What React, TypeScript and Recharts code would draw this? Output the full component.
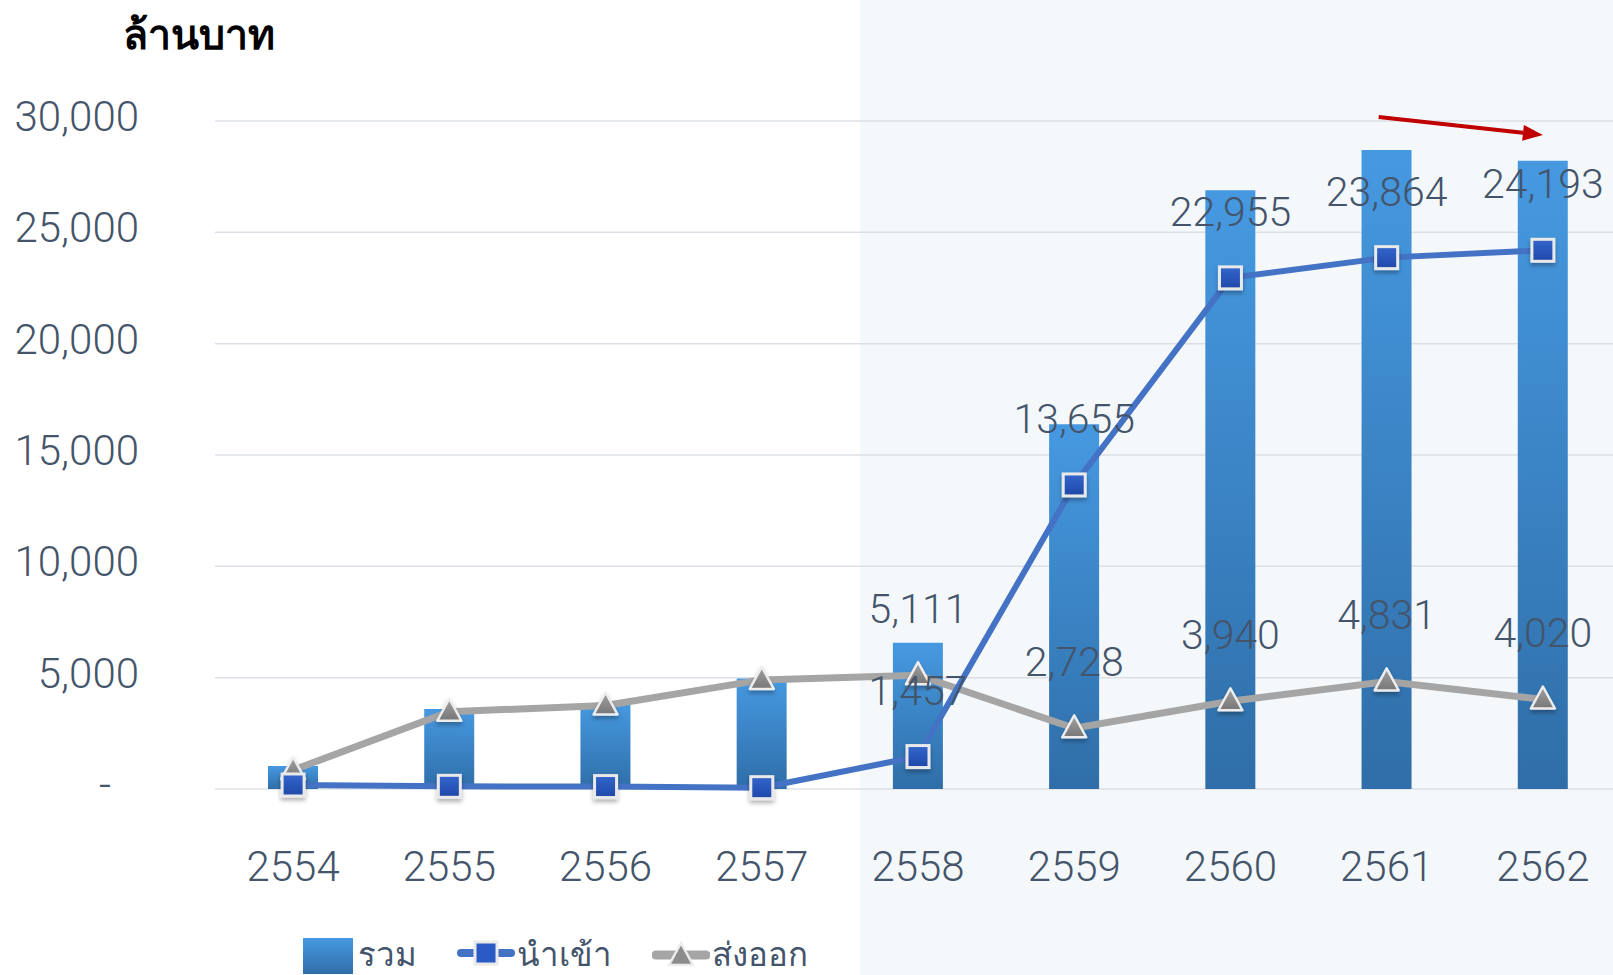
import React from "react";
import {
  Bar,
  CartesianGrid,
  ComposedChart,
  LabelList,
  Legend,
  Line,
  ReferenceLine,
  XAxis,
  YAxis,
} from "recharts";

const years = ["2554", "2555", "2556", "2557", "2558", "2559", "2560", "2561", "2562"];
const totalValues = [1030, 3590, 3860, 4960, 6568, 16383, 26895, 28695, 28213];
const importValues = [180, 120, 110, 60, 1457, 13655, 22955, 23864, 24193];
const exportValues = [850, 3470, 3750, 4900, 5111, 2728, 3940, 4831, 4020];
const yTicks = [0, 5000, 10000, 15000, 20000, 25000, 30000];
const seriesNames = ["รวม", "นำเข้า", "ส่งออก"];
// labels are only shown from 2558 on
const firstLabelled = 4;

const data = years.map((year, i) => ({
  year,
  total: totalValues[i],
  imp: importValues[i],
  exp: exportValues[i],
}));

const TEXT = "#44546A";
const NUM_FONT = "Roboto, 'Noto Sans', sans-serif";

const fmt = (v: number) => v.toLocaleString("en-US");

const YTick = (props: any) => {
  const { x, y, payload } = props;
  const zero = payload.value === 0;
  return (
    <text
      x={x - 68 - (zero ? 28 : 0)}
      y={y + 10}
      textAnchor="end"
      fill={TEXT}
      fontFamily={NUM_FONT}
      fontWeight={300}
      fontSize={42}
    >
      {zero ? "-" : fmt(payload.value)}
    </text>
  );
};

const XTick = (props: any) => {
  const { x, y, payload } = props;
  return (
    <text
      x={x}
      y={y + 84}
      textAnchor="middle"
      fill={TEXT}
      fontFamily={NUM_FONT}
      fontWeight={300}
      fontSize={42}
    >
      {payload.value}
    </text>
  );
};

const valueLabel = (props: any) => {
  const { x, y, value, index } = props;
  if (index < firstLabelled) return null;
  return (
    <text
      x={x}
      y={y - 52}
      textAnchor="middle"
      fill={TEXT}
      fontFamily={NUM_FONT}
      fontWeight={300}
      fontSize={41}
    >
      {fmt(value)}
    </text>
  );
};

const SquareDot = (props: any) => {
  const { cx, cy } = props;
  if (cx == null || cy == null) return null;
  return (
    <rect
      x={cx - 11}
      y={cy - 11}
      width={22}
      height={22}
      fill="url(#sqGrad)"
      stroke="#E9E9E9"
      strokeWidth={3}
      filter="url(#shadow)"
    />
  );
};

const TriDot = (props: any) => {
  const { cx, cy } = props;
  if (cx == null || cy == null) return null;
  return (
    <polygon
      points={`${cx},${cy - 13} ${cx + 12},${cy + 9} ${cx - 12},${cy + 9}`}
      fill="url(#triGrad)"
      stroke="#EDEDED"
      strokeWidth={2.5}
      strokeLinejoin="round"
      filter="url(#shadow)"
    />
  );
};

const Arrow = (props: any) => {
  const { x1, y1, x2, y2 } = props;
  const ang = Math.atan2(y2 - y1, x2 - x1);
  const len = 20;
  const half = 8;
  const bx = x2 - len * Math.cos(ang);
  const by = y2 - len * Math.sin(ang);
  const px = -Math.sin(ang) * half;
  const py = Math.cos(ang) * half;
  return (
    <g>
      <line x1={x1 - 8} y1={y1 - 1} x2={bx} y2={by} stroke="#C00000" strokeWidth={4} />
      <polygon
        points={`${x2},${y2} ${bx + px},${by + py} ${bx - px},${by - py}`}
        fill="#C00000"
      />
    </g>
  );
};

const LegendBox = () => (
  <div
    style={{
      display: "flex",
      alignItems: "center",
      fontFamily: "'Noto Sans', sans-serif",
      fontWeight: 300,
      fontSize: 33,
      lineHeight: 1,
      color: TEXT,
      whiteSpace: "nowrap",
    }}
  >
    <svg width={52} height={42}>
      <rect x={1} y={6} width={50} height={36} fill="url(#legGrad)" />
      <defs>
        <linearGradient id="legGrad" x1="0" y1="0" x2="0" y2="1">
          <stop offset="0%" stopColor="#4699E1" />
          <stop offset="100%" stopColor="#2F6EA8" />
        </linearGradient>
      </defs>
    </svg>
    <span style={{ marginLeft: 4, marginRight: 40 }}>{seriesNames[0]}</span>
    <svg width={58} height={30}>
      <line x1={4} y1={15} x2={54} y2={15} stroke="#4472C4" strokeWidth={8} strokeLinecap="round" />
      <rect x={18} y={4} width={22} height={22} fill="#2A5BC4" stroke="#E9E9E9" strokeWidth={3} />
    </svg>
    <span style={{ marginLeft: 2, marginRight: 40 }}>{seriesNames[1]}</span>
    <svg width={58} height={30}>
      <line x1={4} y1={17} x2={54} y2={17} stroke="#A5A5A5" strokeWidth={9} strokeLinecap="round" />
      <polygon points="29,5 41,27 17,27" fill="#8C8C8C" stroke="#EDEDED" strokeWidth={2.5} />
    </svg>
    <span style={{ marginLeft: 2 }}>{seriesNames[2]}</span>
  </div>
);

export default function App() {
  return (
    <div
      style={{
        position: "absolute",
        left: 0,
        top: 0,
        width: 1613,
        height: 975,
        overflow: "hidden",
        background:
          "linear-gradient(to right, #ffffff 0px, #ffffff 860px, #F4F8FB 860px, #F4F8FB 100%)",
      }}
    >
      <div
        style={{
          position: "absolute",
          left: 123,
          top: 2,
          fontFamily: "'Noto Sans', sans-serif",
          fontWeight: 700,
          fontSize: 41,
          color: "#000",
          zIndex: 2,
        }}
      >
        ล้านบาท
      </div>
      <ComposedChart
        width={1625}
        height={975}
        data={data}
        margin={{ top: 121, right: 4, bottom: 156, left: 0 }}
      >
        <defs>
          <linearGradient id="barGrad" x1="0" y1="0" x2="0" y2="1">
            <stop offset="0%" stopColor="#4699E1" />
            <stop offset="100%" stopColor="#2F6EA8" />
          </linearGradient>
          <linearGradient id="sqGrad" x1="0" y1="0" x2="0" y2="1">
            <stop offset="0%" stopColor="#3366CC" />
            <stop offset="100%" stopColor="#1F48A8" />
          </linearGradient>
          <linearGradient id="triGrad" x1="0" y1="0" x2="0" y2="1">
            <stop offset="0%" stopColor="#A0A0A0" />
            <stop offset="100%" stopColor="#777777" />
          </linearGradient>
          <filter id="shadow" x="-50%" y="-50%" width="200%" height="200%">
            <feDropShadow dx="0" dy="3" stdDeviation="2" floodColor="#000" floodOpacity="0.3" />
          </filter>
        </defs>

        {/* grid */}
        <CartesianGrid vertical={false} stroke="#DCE0E6" strokeWidth={1.5} />

        <YAxis
          width={215}
          domain={[0, 30000]}
          ticks={yTicks}
          axisLine={false}
          tickLine={false}
          tick={<YTick />}
        />
        <XAxis
          dataKey="year"
          interval={0}
          axisLine={false}
          tickLine={false}
          tick={<XTick />}
        />

        <Legend
          verticalAlign="middle"
          align="center"
          layout="horizontal"
          content={<LegendBox />}
          wrapperStyle={{ top: 932, left: 302, width: "auto", height: "auto" }}
        />

        <Bar
          dataKey="total"
          name={seriesNames[0]}
          barSize={50}
          fill="url(#barGrad)"
          isAnimationActive={false}
        />
        <Line
          dataKey="exp"
          name={seriesNames[2]}
          type="linear"
          stroke="#A5A5A5"
          strokeWidth={7}
          dot={<TriDot />}
          activeDot={false}
          isAnimationActive={false}
        >
          <LabelList dataKey="exp" content={valueLabel} />
        </Line>
        <Line
          dataKey="imp"
          name={seriesNames[1]}
          type="linear"
          stroke="#4472C4"
          strokeWidth={6}
          dot={<SquareDot />}
          activeDot={false}
          isAnimationActive={false}
        >
          <LabelList dataKey="imp" content={valueLabel} />
        </Line>

        {/* red trend arrow */}
        <ReferenceLine
          segment={[
            { x: "2561", y: 30135 },
            { x: "2562", y: 29370 },
          ]}
          ifOverflow="visible"
          shape={<Arrow />}
        />
      </ComposedChart>
    </div>
  );
}
